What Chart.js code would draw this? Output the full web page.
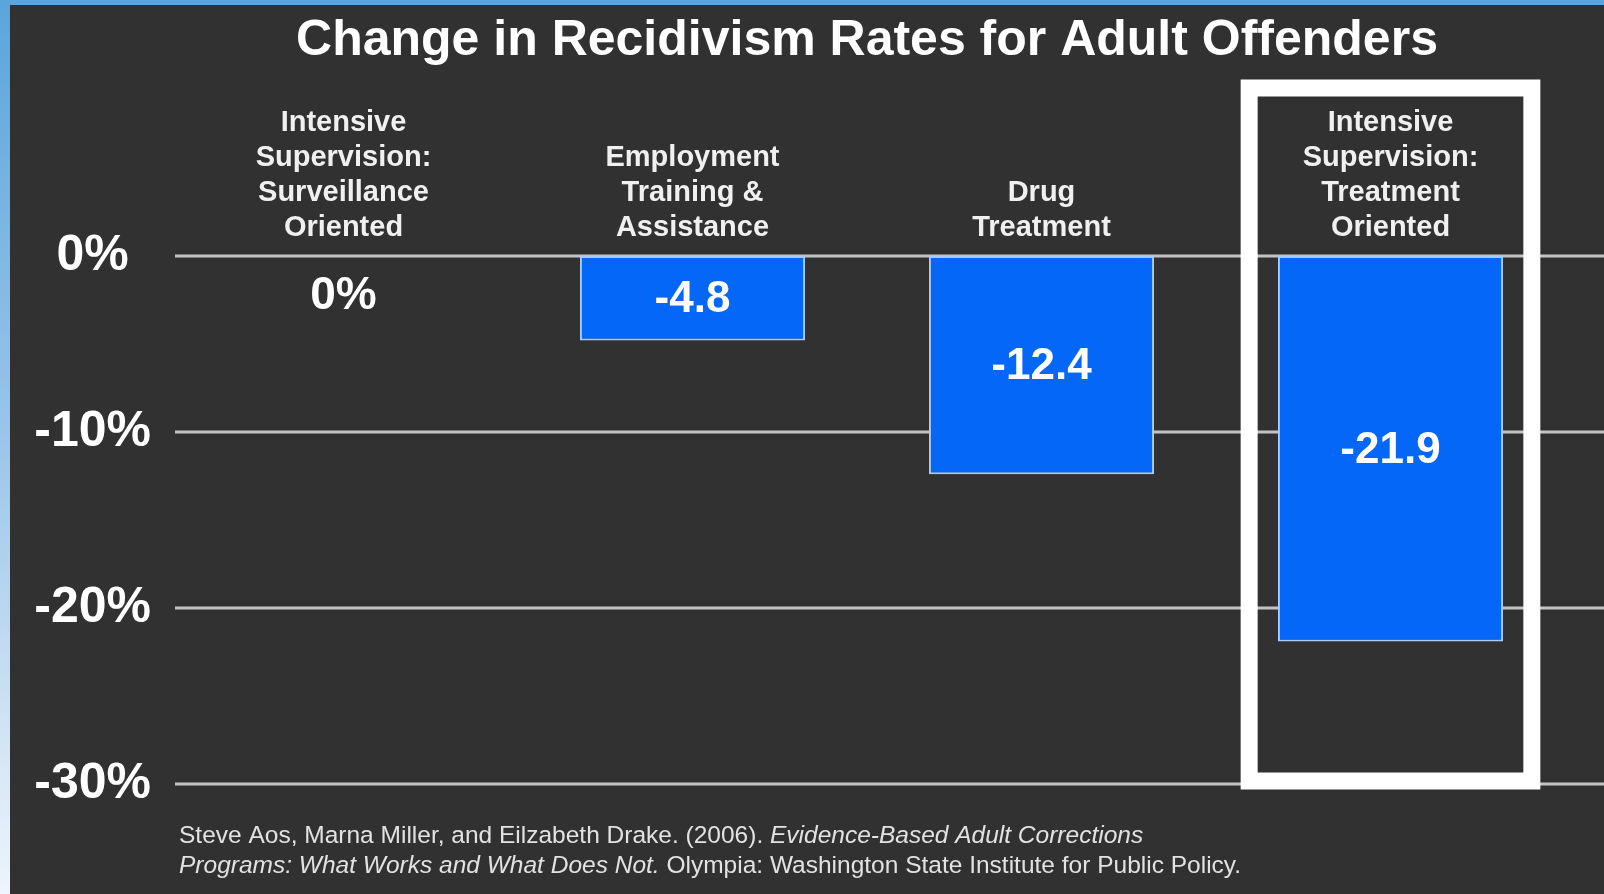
<!DOCTYPE html>
<html>
<head>
<meta charset="utf-8">
<script src="https://cdn.jsdelivr.net/npm/chart.js@4.4.0/dist/chart.umd.min.js"></script>
<style>
    html, body { margin: 0; padding: 0; }
    body {
        width: 1604px; height: 894px; overflow: hidden; position: relative;
        background: linear-gradient(to bottom, #5aa5dc 0%, #9cc6ea 50%, #eef5fb 100%);
    }
    #panel { position: absolute; left: 10px; top: 5px; right: 0; bottom: 0; background: #313131; }
    #wrap { position: absolute; left: 0; top: 0; width: 1604px; height: 894px; }
</style>
</head>
<body>
<div id="panel"></div>
<div id="wrap"><canvas id="chart"></canvas></div>
<script>
const categories = [
    ['Intensive', 'Supervision:', 'Surveillance', 'Oriented'],
    ['Employment', 'Training &', 'Assistance'],
    ['Drug', 'Treatment'],
    ['Intensive', 'Supervision:', 'Treatment', 'Oriented']
];
const values = [0, -4.8, -12.4, -21.9];
const yTicks = [0, -10, -20, -30];
const highlighted = 3;

const titleText = 'Change in Recidivism Rates for Adult Offenders';
// footer lines, split into [text, italic] pieces
const sourceLines = [
    [['Steve Aos, Marna Miller, and Eilzabeth Drake. (2006). ', false], ['Evidence-Based Adult Corrections', true]],
    [['Programs: What Works and What Does Not.', true], [' Olympia: Washington State Institute for Public Policy.', false]]
];

const FONT = '"Liberation Sans", Arial, sans-serif';

// horizontal lines run past the plot area to the page edge
const gridLines = {
    id: 'gridLines',
    beforeDatasetsDraw(chart) {
        const ctx = chart.ctx;
        const y = chart.scales.y;
        ctx.save();
        ctx.strokeStyle = '#c4c4c4';
        ctx.lineWidth = 3;
        yTicks.forEach(v => {
            const py = Math.round(y.getPixelForValue(v));
            ctx.beginPath();
            ctx.moveTo(175, py);
            ctx.lineTo(chart.width, py);
            ctx.stroke();
        });
        ctx.restore();
    }
};

// numbers printed on (or under) each bar
const valueLabels = {
    id: 'valueLabels',
    afterDatasetsDraw(chart) {
        const ctx = chart.ctx;
        const meta = chart.getDatasetMeta(0);
        ctx.save();
        ctx.fillStyle = '#ffffff';
        ctx.textAlign = 'center';
        ctx.textBaseline = 'middle';
        meta.data.forEach((bar, i) => {
            const v = values[i];
            if (v === 0) {
                ctx.font = 'bold 46px ' + FONT;
                ctx.fillText('0%', bar.x, bar.base + 40);
            } else {
                ctx.font = 'bold 44px ' + FONT;
                ctx.fillText(v.toFixed(1), bar.x, (bar.y + bar.base) / 2 + 2);
            }
        });
        ctx.restore();
    }
};

// white frame around the highlighted program
const highlightBox = {
    id: 'highlightBox',
    afterDatasetsDraw(chart) {
        const ctx = chart.ctx;
        const x = chart.scales.x;
        const cx = x.getPixelForValue(highlighted);
        const half = x.width / categories.length * 0.405;
        const top = chart.chartArea.top - 168;
        const bottom = chart.chartArea.bottom - 3;
        ctx.save();
        ctx.strokeStyle = '#ffffff';
        ctx.lineWidth = 17;
        ctx.strokeRect(cx - half, top, half * 2, bottom - top);
        ctx.restore();
    }
};

const sourceNote = {
    id: 'sourceNote',
    afterDraw(chart) {
        const ctx = chart.ctx;
        ctx.save();
        ctx.fillStyle = '#e2e2e2';
        ctx.textBaseline = 'middle';
        sourceLines.forEach((parts, row) => {
            let px = 179;
            const py = 836 + row * 30;
            parts.forEach(([text, italic]) => {
                ctx.font = (italic ? 'italic ' : '') + '24.5px ' + FONT;
                ctx.fillText(text, px, py);
                px += ctx.measureText(text).width;
            });
        });
        ctx.restore();
    }
};

new Chart(document.getElementById('chart'), {
    type: 'bar',
    data: {
        labels: categories,
        datasets: [{
            data: values,
            backgroundColor: '#0567f7',
            borderColor: '#a9ccf5',
            borderWidth: 2,
            borderSkipped: false,
            barPercentage: 0.645,
            categoryPercentage: 1
        }]
    },
    options: {
        responsive: true,
        maintainAspectRatio: false,
        animation: false,
        layout: { padding: { left: 0, right: 39, top: 0, bottom: 110 } },
        plugins: {
            legend: { display: false },
            tooltip: { enabled: false },
            title: {
                display: true,
                text: titleText,
                fullSize: false,
                color: '#ffffff',
                font: { family: FONT, size: 50, weight: 'bold', lineHeight: 1.2 },
                padding: { top: 11, bottom: 0 }
            }
        },
        scales: {
            x: {
                position: 'top',
                grid: { display: false },
                border: { display: false },
                ticks: {
                    color: '#f0f0f0',
                    font: { family: FONT, size: 29, weight: 'bold', lineHeight: 1.2 },
                    padding: 3,
                    maxRotation: 0,
                    autoSkip: false
                },
                afterFit(scale) { scale.height = 185; }
            },
            y: {
                min: -30,
                max: 0,
                grid: { display: false },
                border: { display: false },
                afterBuildTicks(scale) { scale.ticks = yTicks.map(v => ({ value: v })); },
                ticks: {
                    color: '#ffffff',
                    crossAlign: 'center',
                    padding: 10,
                    font: { family: FONT, size: 50, weight: 'bold' },
                    callback: v => v + '%'
                },
                afterFit(scale) { scale.width = 169; }
            }
        }
    },
    plugins: [gridLines, valueLabels, highlightBox, sourceNote]
});
</script>
</body>
</html>
